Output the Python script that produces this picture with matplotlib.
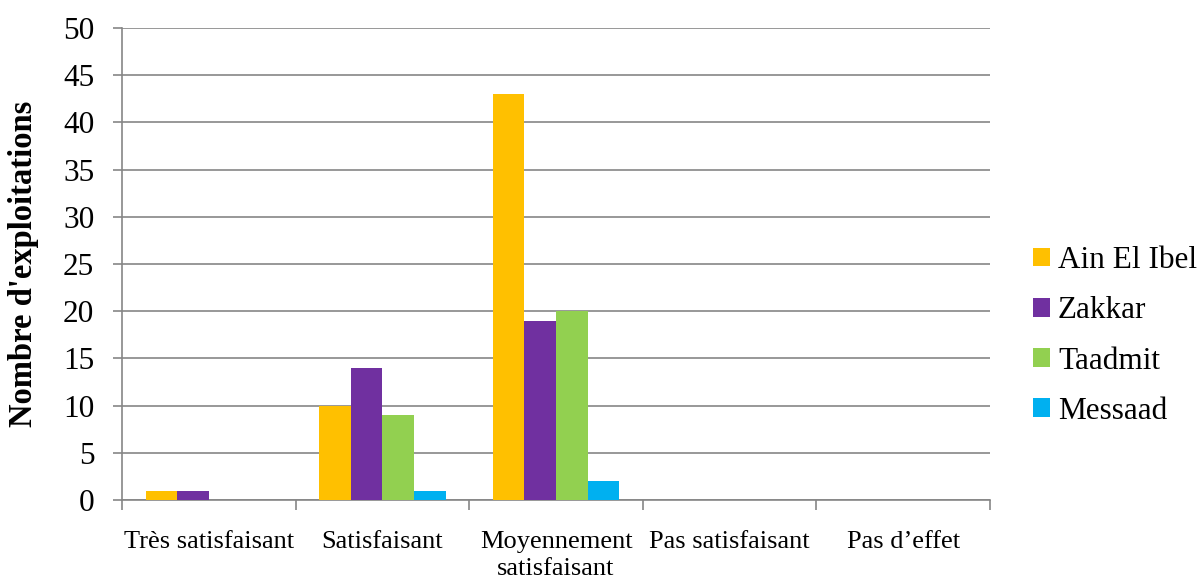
import matplotlib.pyplot as plt
import numpy as np

plt.rcParams['font.family'] = ['Liberation Serif', 'DejaVu Serif']

# Effectifs par catégorie d'appréciation et par commune
categories = ['Très satisfaisant', 'Satisfaisant', 'Moyennement\nsatisfaisant',
              'Pas satisfaisant', 'Pas d’effet']
ain_el_ibel = [1, 10, 43, 0, 0]
zakkar = [1, 14, 19, 0, 0]
taadmit = [0, 9, 20, 0, 0]
messaad = [0, 1, 2, 0, 0]

series = [('Ain El Ibel', ain_el_ibel, '#FFC000'),
          ('Zakkar', zakkar, '#7030A0'),
          ('Taadmit', taadmit, '#92D050'),
          ('Messaad', messaad, '#00B0F0')]

fig = plt.figure(figsize=(11.99, 5.83), dpi=100)
ax = fig.add_axes([0.1018, 0.1424, 0.7239, 0.8096])

x = np.arange(len(categories))
largeur = 1 / 5.5
for i, (nom, valeurs, couleur) in enumerate(series):
    ax.bar(x + (i - 1.5) * largeur, valeurs, largeur, color=couleur, label=nom, zorder=3)

gris = '#868686'
ax.set_ylim(0, 50)
ax.set_yticks(np.arange(0, 51, 5))
ax.yaxis.grid(True, color=gris, linewidth=1.2, zorder=0)
ax.set_xlim(-0.5, len(categories) - 0.5)
ax.set_xticks(np.arange(-0.5, len(categories)), labels=[])
ax.set_xticks(x, labels=categories, minor=True)
for lbl in ax.get_xticklabels(minor=True):
    lbl.set_linespacing(1.3)
ax.tick_params(axis='x', which='major', length=7, color=gris, width=1.2)
ax.tick_params(axis='x', which='minor', length=0, labelsize=19, pad=22)
ax.tick_params(axis='y', length=6.5, color=gris, width=1.2, labelsize=22.5, pad=13.5)

for cote in ['top', 'right']:
    ax.spines[cote].set_visible(False)
for cote in ['left', 'bottom']:
    ax.spines[cote].set_color(gris)
    ax.spines[cote].set_linewidth(1.2)

ax.set_ylabel("Nombre d'exploitations", fontsize=23.5, fontweight='bold', labelpad=17)

ax.legend(loc='center left', bbox_to_anchor=(1033 / 1199, 1 - 336 / 583),
          bbox_transform=fig.transFigure, frameon=False, fontsize=22.5,
          handlelength=0.55, handleheight=0.55, handletextpad=0.25, labelspacing=0.68,
          borderaxespad=0, borderpad=0)

fig.savefig('out.png', dpi=100)
